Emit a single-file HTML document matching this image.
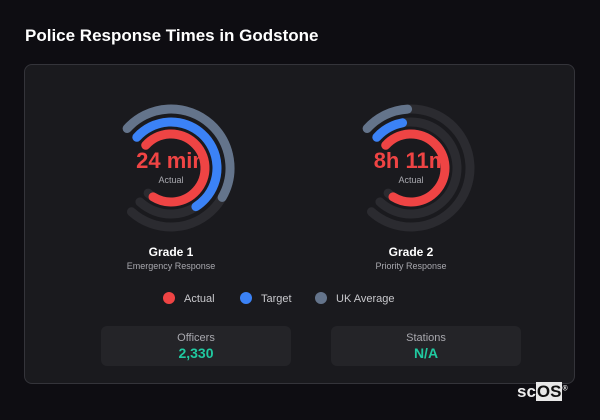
<!DOCTYPE html>
<html><head><meta charset="utf-8"><style>
body{margin:0;width:600px;height:420px;background:#0e0d12;font-family:"Liberation Sans",sans-serif;position:relative;overflow:hidden}
.t{position:absolute;left:25px;top:26px;color:#fff;font-weight:bold;font-size:17px}
.card{position:absolute;left:24px;top:64px;width:551px;height:320px;background:#1a1a1e;border:1px solid #34343a;border-radius:8px;box-sizing:border-box}
.abs{position:absolute;text-align:center}
.box{position:absolute;top:326px;width:190px;height:40px;background:#242428;border-radius:6px;text-align:center}
.box .l{color:#a8a8ae;font-size:11px;margin-top:6px}
.box .v{color:#20c9a0;font-size:14px;font-weight:bold;margin-top:1px}
.leg{position:absolute;top:292px;font-size:11px;color:#c8c8cc}
.dot{display:inline-block;width:12px;height:12px;border-radius:50%;vertical-align:-2px;margin-right:9px}
</style></head><body>
<div class="t">Police Response Times in Godstone</div>
<div class="card"></div>
<svg width="600" height="420" style="position:absolute;left:0;top:0">
<g fill="none" stroke-width="9" stroke-linecap="round">
 <g transform="translate(171,168) rotate(222)">
  <circle r="59" stroke="#2b2b30" stroke-dasharray="278 1000"/>
  <circle r="46" stroke="#2b2b30" stroke-dasharray="216.8 1000"/>
  <circle r="34" stroke="#2b2b30" stroke-dasharray="160.2 1000"/>
  <circle r="59" stroke="#64748b" stroke-dasharray="172.8 1000"/>
  <circle r="46" stroke="#3b82f6" stroke-dasharray="156.5 1000"/>
  <circle r="34" stroke="#ef4444" stroke-dasharray="154 1000"/>
 </g>
 <g transform="translate(411,168) rotate(222)">
  <circle r="59" stroke="#2b2b30" stroke-dasharray="278 1000"/>
  <circle r="46" stroke="#2b2b30" stroke-dasharray="216.8 1000"/>
  <circle r="34" stroke="#2b2b30" stroke-dasharray="160.2 1000"/>
  <circle r="59" stroke="#64748b" stroke-dasharray="46 1000"/>
  <circle r="46" stroke="#3b82f6" stroke-dasharray="30 1000"/>
  <circle r="34" stroke="#ef4444" stroke-dasharray="154 1000"/>
 </g>
</g>
<g font-family="Liberation Sans,sans-serif" text-anchor="middle">
 <text x="171" y="168" fill="#ef4444" font-size="22" font-weight="bold">24 min</text>
 <text x="171" y="183" fill="#a8a8ae" font-size="9">Actual</text>
 <text x="411" y="168" fill="#ef4444" font-size="22" font-weight="bold">8h 11m</text>
 <text x="411" y="183" fill="#a8a8ae" font-size="9">Actual</text>
 <text x="171" y="256" fill="#fff" font-size="12" font-weight="bold">Grade 1</text>
 <text x="171" y="269" fill="#a8a8ae" font-size="9">Emergency Response</text>
 <text x="411" y="256" fill="#fff" font-size="12" font-weight="bold">Grade 2</text>
 <text x="411" y="269" fill="#a8a8ae" font-size="9">Priority Response</text>
</g>
</svg>
<div class="leg" style="left:163px"><span class="dot" style="background:#ef4444"></span>Actual</div>
<div class="leg" style="left:240px"><span class="dot" style="background:#3b82f6"></span>Target</div>
<div class="leg" style="left:315px"><span class="dot" style="background:#64748b"></span>UK Average</div>
<div class="box" style="left:101px"><div class="l">Officers</div><div class="v">2,330</div></div>
<div class="box" style="left:331px"><div class="l">Stations</div><div class="v">N/A</div></div>
<div class="abs" style="left:517px;top:382px;font-size:17px;font-weight:bold;color:#eee">sc<span style="background:#e8e8e8;color:#111;padding:0 1px">OS</span><sup style="font-size:7px">®</sup></div>
</body></html>
